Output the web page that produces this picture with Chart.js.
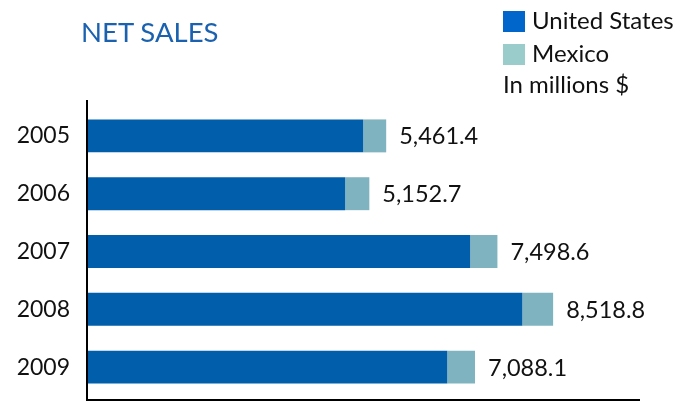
<!DOCTYPE html>
<html lang="en">
<head>
    <meta charset="UTF-8">
    <title>Net Sales</title>
    <script src="https://cdn.jsdelivr.net/npm/chart.js"></script>
    <style>
        body {
            margin: 0;
            padding: 0;
            background: #fff;
            font-family: 'Lato', sans-serif;
        }
        .wrap {
            position: relative;
            width: 694px;
            height: 402px;
        }
        canvas {
            position: absolute;
            left: 0;
            top: 0;
        }
        .title {
            position: absolute;
            left: 81px;
            top: 18px;
            font-size: 27.5px;
            line-height: 27px;
            color: #1a62b0;
        }
        .legend-item {
            position: absolute;
            left: 503px;
            font-size: 24px;
            line-height: 22px;
            color: #111;
            white-space: nowrap;
        }
        .legend-item .box {
            display: inline-block;
            width: 22px;
            height: 21px;
            margin-right: 7px;
            vertical-align: -3px;
        }
    </style>
</head>
<body>
    <div class="wrap">
        <canvas id="salesChart" width="694" height="402"></canvas>
        <div class="title">NET SALES</div>
        <div class="legend-item" style="top: 9px;"><span class="box" style="background:#0066cc"></span>United States</div>
        <div class="legend-item" style="top: 42px;"><span class="box" style="background:#9acccc"></span>Mexico</div>
        <div class="legend-item" style="top: 73px;">In millions $</div>
    </div>

    <script>
        const years = ['2005', '2006', '2007', '2008', '2009'];
        const usSales = [5040, 4710, 7000, 7955, 6580];
        const mexicoSales = [421.4, 442.7, 498.6, 563.8, 508.1];
        const totalLabels = ['5,461.4', '5,152.7', '7,498.6', '8,518.8', '7,088.1'];

        // axis lines run a little past the bars, like the original
        const axisLines = {
            id: 'axisLines',
            afterDraw(chart) {
                const { ctx, chartArea } = chart;
                ctx.save();
                ctx.strokeStyle = '#000';
                ctx.lineWidth = 2;
                ctx.beginPath();
                ctx.moveTo(chartArea.left - 1, chartArea.top - 7);
                ctx.lineTo(chartArea.left - 1, chartArea.bottom + 4);
                ctx.lineTo(chartArea.right + 6, chartArea.bottom + 4);
                ctx.stroke();
                ctx.restore();
            }
        };

        // total value at the end of each bar
        const totalsPlugin = {
            id: 'totals',
            afterDatasetsDraw(chart) {
                const { ctx } = chart;
                const meta = chart.getDatasetMeta(1);
                ctx.save();
                ctx.font = '23.5px Lato';
                ctx.fillStyle = '#111';
                ctx.textBaseline = 'middle';
                meta.data.forEach((bar, i) => {
                    ctx.fillText(totalLabels[i], bar.x + 13, bar.y + 1);
                });
                ctx.restore();
            }
        };

        new Chart(document.getElementById('salesChart'), {
            type: 'bar',
            data: {
                labels: years,
                datasets: [
                    {
                        label: 'United States',
                        data: usSales,
                        backgroundColor: '#005eaa'
                    },
                    {
                        label: 'Mexico',
                        data: mexicoSales,
                        backgroundColor: '#80b3c0'
                    }
                ]
            },
            options: {
                indexAxis: 'y',
                responsive: false,
                animation: false,
                layout: {
                    padding: { top: 107, bottom: 6, right: 60, left: 0 }
                },
                datasets: {
                    bar: { categoryPercentage: 1, barPercentage: 0.57 }
                },
                plugins: {
                    legend: { display: false },
                    tooltip: { enabled: false }
                },
                scales: {
                    x: {
                        display: false,
                        stacked: true,
                        min: 0,
                        max: 10000
                    },
                    y: {
                        stacked: true,
                        afterFit(scale) {
                            scale.width = 88;
                            scale.paddingTop = 0;
                            scale.paddingBottom = 0;
                        },
                        grid: { display: false, drawTicks: false },
                        border: { display: false },
                        ticks: {
                            padding: 18,
                            color: '#111',
                            font: { family: 'Lato', size: 23 }
                        }
                    }
                }
            },
            plugins: [axisLines, totalsPlugin]
        });
    </script>
</body>
</html>
